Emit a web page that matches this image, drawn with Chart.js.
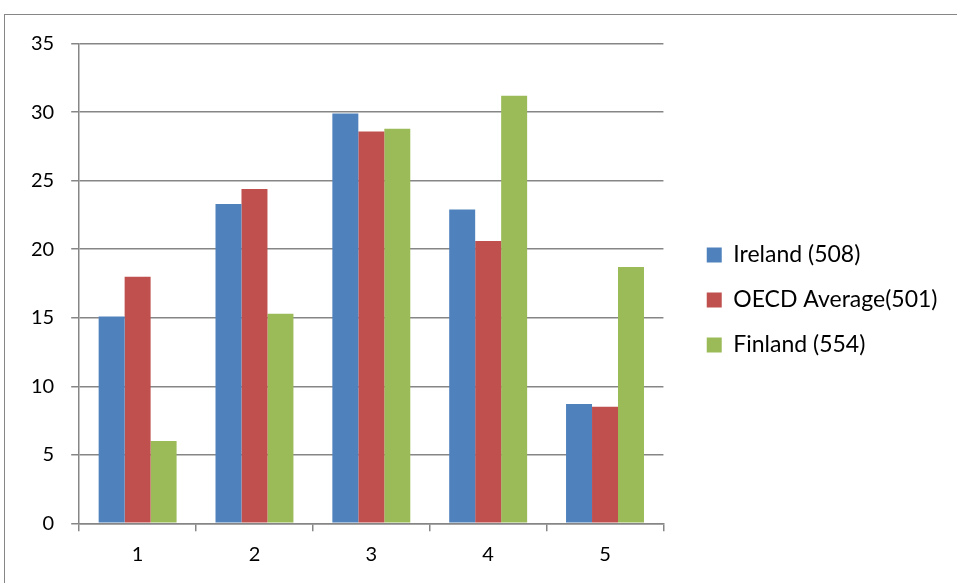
<!DOCTYPE html>
<html>
<head>
<meta charset="utf-8">
<script src="https://cdn.jsdelivr.net/npm/chart.js@4/dist/chart.umd.min.js"></script>
<style>
  html, body { margin: 0; padding: 0; background: #ffffff; }
  canvas { display: block; }
</style>
</head>
<body>
<canvas id="chart" width="957" height="583"></canvas>
<script>
// Categories along the x axis
const categories = ['1', '2', '3', '4', '5'];

// Series values
const ireland = [15.1, 23.3, 29.9, 22.9, 8.7];
const oecdAverage = [18.0, 24.4, 28.6, 20.6, 8.5];
const finland = [6.0, 15.3, 28.8, 31.2, 18.7];

// Legend labels
const seriesNames = ['Ireland (508)', 'OECD Average(501)', 'Finland (554)'];

// Value axis range
const yMin = 0;
const yMax = 35;
const yStep = 5;

const axisGray = '#868686';

// Thin outer border around the whole chart
const framePlugin = {
  id: 'frame',
  beforeDraw(chart) {
    const ctx = chart.ctx;
    ctx.save();
    ctx.fillStyle = '#ffffff';
    ctx.fillRect(0, 0, chart.width, chart.height);
    ctx.strokeStyle = axisGray;
    ctx.lineWidth = 1;
    ctx.strokeRect(4.5, 14.5, chart.width + 10, chart.height + 10);
    ctx.restore();
  }
};

// Invisible axis used only to reserve space in the layout
function spacer(position, size) {
  const horizontal = position === 'top' || position === 'bottom';
  return {
    position,
    display: true,
    grid: { display: false },
    border: { display: false },
    ticks: { display: false },
    afterFit(scale) {
      if (horizontal) { scale.height = size; } else { scale.width = size; }
    }
  };
}

function draw() {
  Chart.defaults.font.family = 'Lato, "Open Sans", sans-serif';
  Chart.defaults.color = '#000000';

  new Chart(document.getElementById('chart'), {
    type: 'bar',
    data: {
      labels: categories,
      datasets: [
        { label: seriesNames[0], data: ireland, backgroundColor: '#4F81BD' },
        { label: seriesNames[1], data: oecdAverage, backgroundColor: '#C0504D' },
        { label: seriesNames[2], data: finland, backgroundColor: '#9BBB59' }
      ]
    },
    options: {
      responsive: false,
      animation: false,
      devicePixelRatio: 1,
      categoryPercentage: 0.667,
      barPercentage: 1.0,
      layout: { padding: { left: 14, top: 22.7, right: 9.5, bottom: 5.7 } },
      plugins: {
        tooltip: { enabled: false },
        legend: {
          position: 'right',
          maxWidth: 400,
          labels: {
            font: { size: 23 },
            boxWidth: 15,
            boxHeight: 15,
            padding: 22,
            color: '#000000'
          }
        }
      },
      scales: {
        x: {
          grid: {
            display: true,
            drawOnChartArea: false,
            drawTicks: true,
            tickLength: 8,
            color: axisGray,
            lineWidth: 1.5
          },
          border: { display: true, color: axisGray, width: 1.5 },
          ticks: { font: { size: 20 }, padding: 11, color: '#000000' }
        },
        y: {
          min: yMin,
          max: yMax,
          ticks: { stepSize: yStep, font: { size: 20 }, padding: 17, color: '#000000' },
          grid: { color: axisGray, lineWidth: 1.5, tickLength: 8 },
          border: { display: true, color: axisGray, width: 1.5 }
        },
        topSpace: spacer('top', 21),
        rightSpace: spacer('right', 21.3)
      }
    },
    plugins: [framePlugin]
  });
}

if (document.fonts && document.fonts.load) {
  Promise.all([document.fonts.load('20px Lato'), document.fonts.load('23px Lato')])
    .then(draw, draw);
} else {
  draw();
}
</script>
</body>
</html>
